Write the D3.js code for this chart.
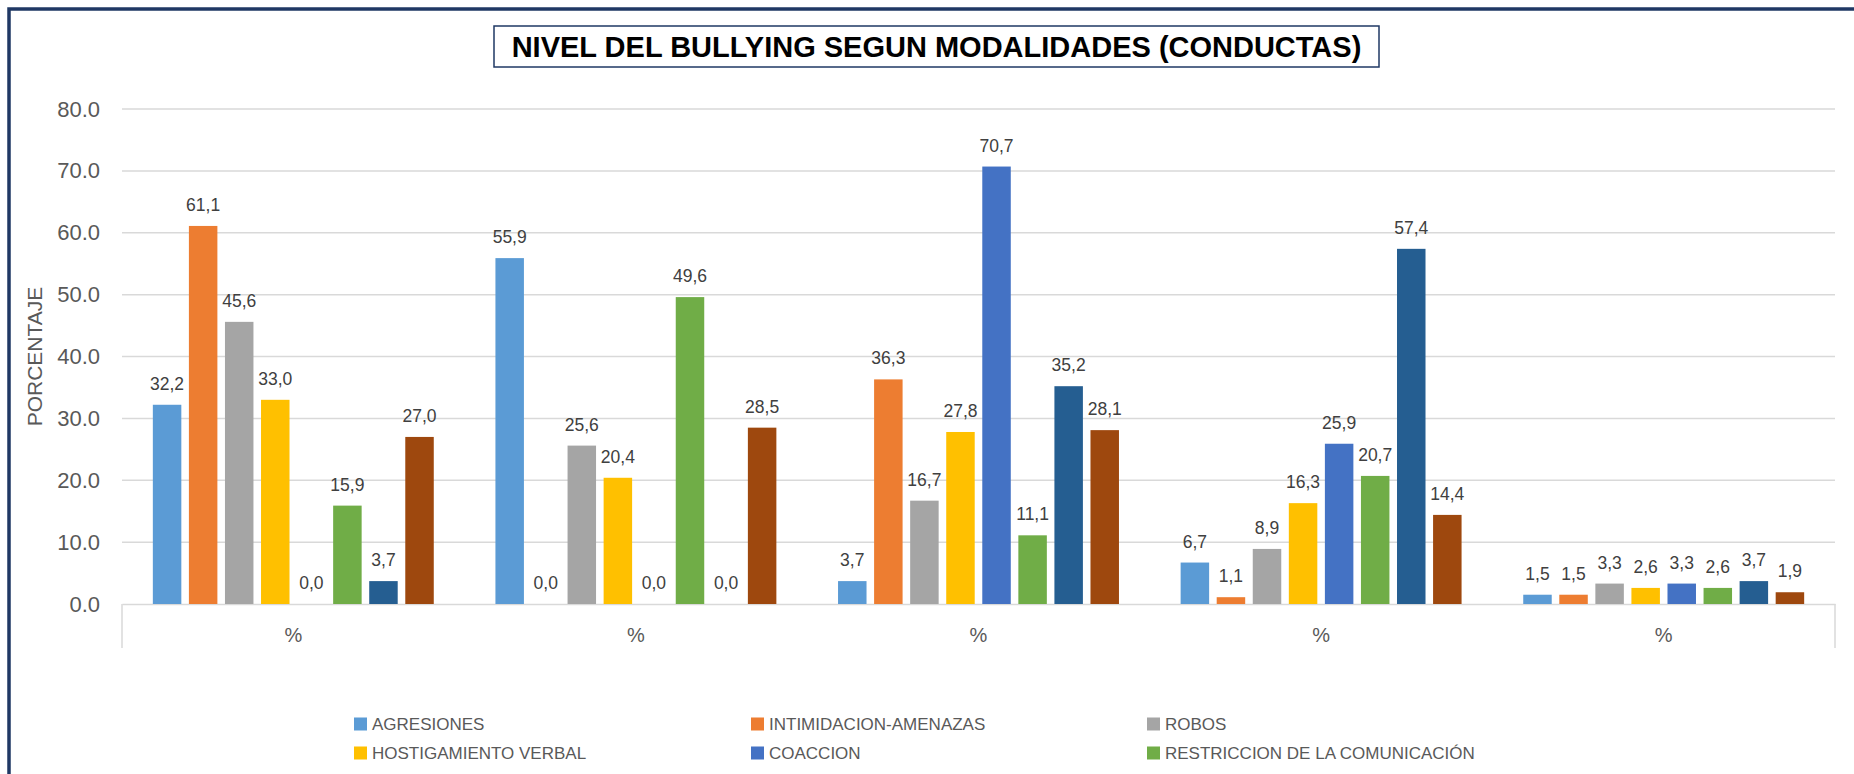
<!DOCTYPE html>
<html>
<head>
<meta charset="utf-8">
<script src="https://cdn.jsdelivr.net/npm/d3@7"></script>
<style>
  html, body { margin: 0; padding: 0; background: #fff; }
  text { font-family: "Liberation Sans", Arial, sans-serif; }
</style>
</head>
<body>
<div id="main"></div>
<script>
/*********************************************************
 * Data
 *********************************************************/
const categories = ['%', '%', '%', '%', '%'];
const seriesNames = [
  'AGRESIONES',
  'INTIMIDACION-AMENAZAS',
  'ROBOS',
  'HOSTIGAMIENTO VERBAL',
  'COACCION',
  'RESTRICCION DE LA COMUNICACIÓN'
];
// 8 series drawn; the legend only shows the first 6 (rest is cut off)
const seriesColors = ['#5B9BD5', '#ED7D31', '#A5A5A5', '#FFC000', '#4472C4', '#70AD47', '#255E91', '#9E480E'];
const values = [
  [32.2, 61.1, 45.6, 33.0, 0.0, 15.9, 3.7, 27.0],
  [55.9, 0.0, 25.6, 20.4, 0.0, 49.6, 0.0, 28.5],
  [3.7, 36.3, 16.7, 27.8, 70.7, 11.1, 35.2, 28.1],
  [6.7, 1.1, 8.9, 16.3, 25.9, 20.7, 57.4, 14.4],
  [1.5, 1.5, 3.3, 2.6, 3.3, 2.6, 3.7, 1.9]
];
const yTicks = [0, 10, 20, 30, 40, 50, 60, 70, 80];
const titleText = 'NIVEL DEL BULLYING SEGUN MODALIDADES (CONDUCTAS)';
const yLabel = 'PORCENTAJE';

/*********************************************************
 * Layout
 *********************************************************/
const svgWidth = 1854;
const svgHeight = 774;
const plot = { l: 122, r: 1835, t: 109, b: 604 };
const gridColor = '#d9d9d9';
const textColor = '#595959';

const svg = d3.select('#main')
  .append('svg')
  .attr('width', svgWidth)
  .attr('height', svgHeight)
  .style('display', 'block');

svg.append('rect')
  .attr('width', svgWidth)
  .attr('height', svgHeight)
  .attr('fill', '#fff');

// outer navy frame (only left and top edges are inside the picture)
svg.append('rect')
  .attr('x', 9)
  .attr('y', 9)
  .attr('width', svgWidth + 100)
  .attr('height', svgHeight + 100)
  .attr('fill', 'none')
  .attr('stroke', '#1F3864')
  .attr('stroke-width', 3.5);

/*********************************************************
 * Scales
 *********************************************************/
const x0 = d3.scaleBand()
  .domain(d3.range(categories.length))
  .range([plot.l, plot.r])
  .padding(0);

const x1 = d3.scaleBand()
  .domain(d3.range(seriesColors.length))
  .range([0, x0.bandwidth()])
  .paddingInner(0.21)
  .paddingOuter(0.855);

const y = d3.scaleLinear()
  .domain([0, 80])
  .range([plot.b, plot.t]);

/*********************************************************
 * Grid + axes
 *********************************************************/
svg.append('g')
  .attr('class', 'grid')
  .selectAll('line')
  .data(yTicks.filter(d => d > 0))
  .enter().append('line')
  .attr('x1', plot.l)
  .attr('x2', plot.r)
  .attr('y1', d => y(d))
  .attr('y2', d => y(d))
  .attr('stroke', gridColor)
  .attr('stroke-width', 1.5);

const gY = svg.append('g')
  .attr('transform', `translate(${plot.l},0)`)
  .call(d3.axisLeft(y).tickValues(yTicks).tickFormat(d3.format('.1f')).tickSize(0).tickPadding(22));
gY.select('.domain').remove();
gY.selectAll('text')
  .attr('fill', textColor)
  .style('font-size', '22px')
  .style('font-family', '"Liberation Sans", Arial, sans-serif');

const gX = svg.append('g')
  .attr('transform', `translate(0,${plot.b})`)
  .call(d3.axisBottom(x0).tickFormat(i => categories[i]).tickSize(0).tickPadding(24));
gX.select('.domain')
  .attr('stroke', gridColor)
  .attr('stroke-width', 1.5);
gX.selectAll('text')
  .attr('fill', textColor)
  .style('font-size', '20px')
  .style('font-family', '"Liberation Sans", Arial, sans-serif');

// category boundary lines at both ends of the axis
svg.selectAll('.edge')
  .data(x0.range())
  .enter().append('line')
  .attr('class', 'edge')
  .attr('x1', d => d)
  .attr('x2', d => d)
  .attr('y1', plot.b)
  .attr('y2', plot.b + 44)
  .attr('stroke', gridColor)
  .attr('stroke-width', 1.5);

// y axis title
svg.append('text')
  .attr('transform', `translate(42,${(plot.t + plot.b) / 2}) rotate(-90)`)
  .attr('text-anchor', 'middle')
  .attr('fill', textColor)
  .style('font-size', '21px')
  .text(yLabel);

/*********************************************************
 * Bars
 *********************************************************/
const groups = svg.selectAll('.group')
  .data(values)
  .enter().append('g')
  .attr('class', 'group')
  .attr('transform', (d, i) => `translate(${x0(i)},0)`);

groups.selectAll('rect')
  .data(d => d.map((v, k) => ({ v, k })))
  .enter().append('rect')
  .attr('x', d => x1(d.k))
  .attr('y', d => y(d.v))
  .attr('width', x1.bandwidth())
  .attr('height', d => y(0) - y(d.v))
  .attr('fill', d => seriesColors[d.k]);

groups.selectAll('.lbl')
  .data(d => d.map((v, k) => ({ v, k })))
  .enter().append('text')
  .attr('class', 'lbl')
  .attr('x', d => x1(d.k) + x1.bandwidth() / 2)
  .attr('y', d => y(d.v) - 15)
  .attr('text-anchor', 'middle')
  .attr('fill', '#404040')
  .style('font-size', '17.5px')
  .text(d => d3.format('.1f')(d.v).replace('.', ','));

/*********************************************************
 * Title
 *********************************************************/
svg.append('rect')
  .attr('x', 494)
  .attr('y', 26)
  .attr('width', 885)
  .attr('height', 41)
  .attr('fill', '#fff')
  .attr('stroke', '#1F3864')
  .attr('stroke-width', 1.5);

svg.append('text')
  .attr('x', 936.5)
  .attr('y', 57)
  .attr('text-anchor', 'middle')
  .attr('fill', '#000')
  .style('font-size', '29px')
  .style('font-weight', 'bold')
  .text(titleText);

/*********************************************************
 * Legend
 *********************************************************/
const legendCols = [354, 751, 1147];
const legendRows = [724, 753];

const legend = svg.selectAll('.legend')
  .data(seriesNames)
  .enter().append('g')
  .attr('class', 'legend')
  .attr('transform', (d, i) => `translate(${legendCols[i % 3]},${legendRows[Math.floor(i / 3)]})`);

legend.append('rect')
  .attr('x', 0)
  .attr('y', -6.5)
  .attr('width', 13)
  .attr('height', 13)
  .attr('fill', (d, i) => seriesColors[i]);

legend.append('text')
  .attr('x', 18)
  .attr('y', 6)
  .attr('fill', textColor)
  .style('font-size', '17px')
  .text(d => d);
</script>
</body>
</html>
